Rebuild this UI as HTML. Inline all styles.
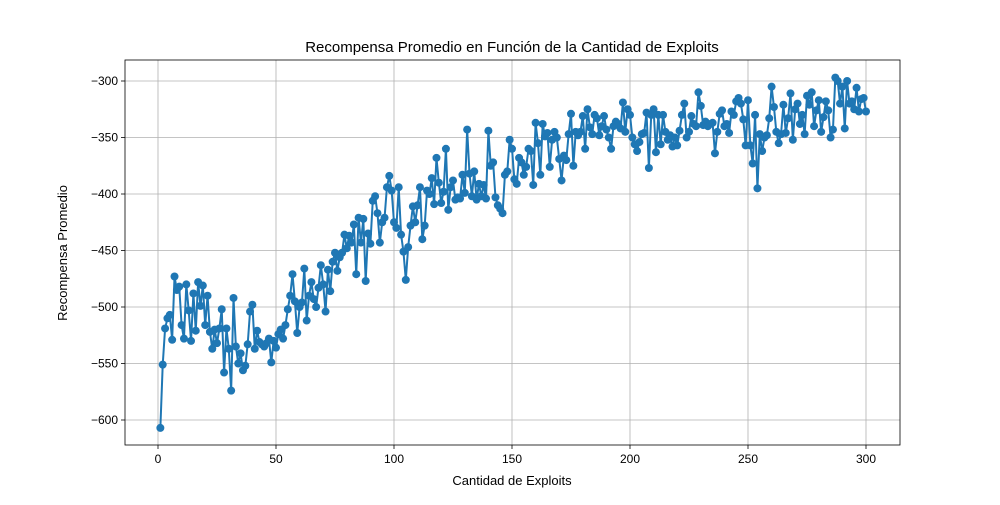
<!DOCTYPE html>
<html><head><meta charset="utf-8"><style>
body{margin:0;background:#fff;}
svg{font-family:"Liberation Sans",sans-serif;}
</style></head><body>
<svg id="chart" width="1000" height="500">
<rect x="0" y="0" width="1000" height="500" fill="#fff"/>
<g id="grid"></g>
<rect x="125" y="60" width="775" height="385" fill="none" stroke="#000" stroke-width="0.8"/>
<g id="axes"></g>
<g id="series"></g>
<text x="512" y="52" text-anchor="middle" font-size="15">Recompensa Promedio en Función de la Cantidad de Exploits</text>
<text x="512" y="485" text-anchor="middle" font-size="13">Cantidad de Exploits</text>
<text x="67" y="253" text-anchor="middle" font-size="13" transform="rotate(-90 67 253)">Recompensa Promedio</text>
</svg>
<script>
const xTicks=[0,50,100,150,200,250,300];
const yTicks=[-600,-550,-500,-450,-400,-350,-300];
const rewards=[
-607,-551,-519,-510,-507,-529,-473,-485,-482,-516,
-528,-480,-503,-530,-488,-521,-478,-499,-481,-516,
-490,-522,-537,-520,-532,-519,-502,-558,-519,-537,
-574,-492,-535,-550,-541,-556,-552,-533,-504,-498,
-537,-521,-531,-533,-535,-532,-528,-549,-530,-536,
-524,-520,-528,-516,-502,-490,-471,-495,-523,-500,
-496,-466,-512,-490,-478,-493,-500,-483,-463,-480,
-504,-467,-486,-460,-452,-468,-456,-452,-436,-448,
-437,-443,-427,-471,-421,-443,-422,-477,-435,-444,
-406,-402,-417,-443,-425,-421,-394,-384,-397,-425,
-430,-394,-436,-451,-476,-447,-428,-411,-425,-410,
-394,-440,-428,-397,-400,-386,-409,-368,-390,-408,
-398,-360,-414,-394,-388,-405,-403,-404,-383,-399,
-343,-382,-402,-380,-405,-391,-402,-392,-404,-344,
-375,-372,-403,-410,-413,-417,-383,-380,-352,-360,
-387,-391,-368,-372,-383,-376,-360,-362,-392,-337,-355,
-383,-338,-349,-346,-376,-352,-345,-350,-369,-388,-366,
-370,-347,-329,-375,-345,-348,-345,-331,-360,-325,-341,
-347,-330,-333,-348,-340,-331,-343,-350,-360,-340,-336,
-338,-342,-319,-345,-325,-330,-350,-356,-362,-354,-347,
-346,-328,-377,-330,-325,-363,-330,-356,-330,-345,-352,
-348,-358,-350,-357,-344,-330,-320,-350,-345,-331,-338,
-340,-310,-322,-339,-336,-340,-338,-337,-364,-345,-329,
-326,-340,-338,-346,-327,-330,-318,-315,-320,-334,-357,
-317,-357,-373,-330,-395,-347,-362,-350,-348,-333,
-305,-323,-345,-355,-347,-321,-346,-333,-311,-352,
-325,-320,-338,-330,-347,-313,-321,-310,-340,-326,
-317,-345,-332,-318,-326,-350,-343,-297,-300,-320,
-305,-342,-300,-320,-318,-325,-306,-327,-316,-315,-327
];
const NS="http://www.w3.org/2000/svg";
const X0=125,X1=900,Y0=60,Y1=445;
function sx(v){return 158+(v-0)*(866-158)/300;}
function sy(v){return 420+(v+600)*(81-420)/300;}
const grid=document.getElementById('grid'),axes=document.getElementById('axes'),ser=document.getElementById('series');
function mk(t,a,p){const e=document.createElementNS(NS,t);for(const k in a)e.setAttribute(k,a[k]);p.appendChild(e);return e;}
xTicks.forEach(t=>{
 const x=sx(t);
 const g=mk('line',{x1:x,x2:x,y1:Y0,y2:Y1,stroke:'#b0b0b0','stroke-width':0.8},grid);
 
 
 mk('line',{x1:x,x2:x,y1:Y1,y2:Y1+4,stroke:'#000','stroke-width':0.8},axes);
 const tx=mk('text',{x:x,y:Y1+18,'text-anchor':'middle','font-size':12},axes);
 tx.textContent=t;
 
 
});
yTicks.forEach(t=>{
 const y=sy(t);
 const g=mk('line',{x1:X0,x2:X1,y1:y,y2:y,stroke:'#b0b0b0','stroke-width':0.8},grid);
 
 
 mk('line',{x1:X0-4,x2:X0,y1:y,y2:y,stroke:'#000','stroke-width':0.8},axes);
 const tx=mk('text',{x:X0-7,y:y+4,'text-anchor':'end','font-size':12},axes);
 tx.textContent='\u2212'+Math.abs(t);
 
 
});
const n=rewards.length;
const pts=rewards.map((v,i)=>[sx(1+i*299/(n-1)),sy(v)]);
const pl=mk('polyline',{points:pts.map(p=>p.join(',')).join(' '),fill:'none',stroke:'#1f77b4','stroke-width':2},ser);


pts.forEach(p=>{
 const c=mk('circle',{cx:p[0],cy:p[1],r:4,fill:'#1f77b4'},ser);
 
 
});
</script>
</body></html>
